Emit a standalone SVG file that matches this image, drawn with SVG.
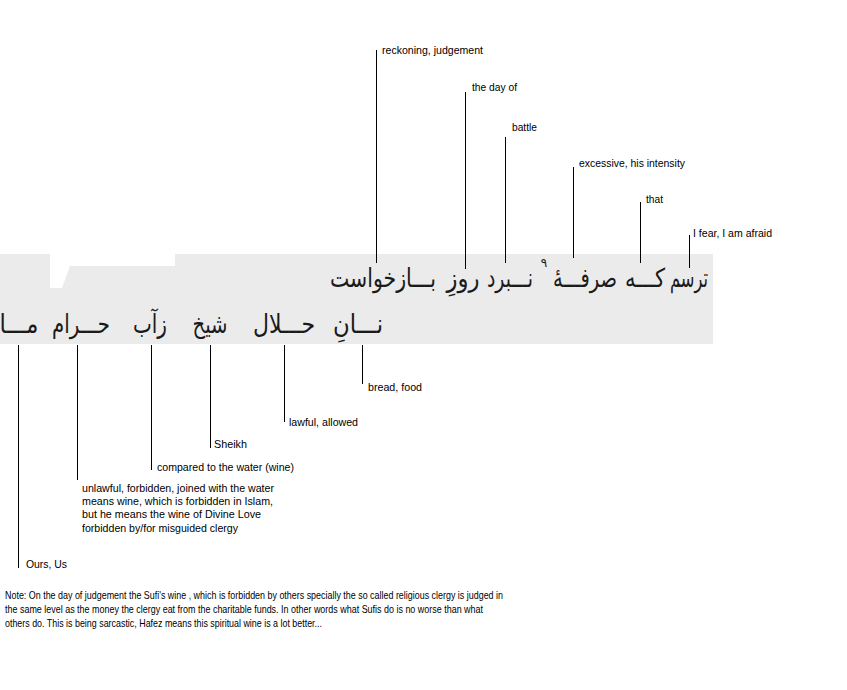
<svg xmlns="http://www.w3.org/2000/svg" width="847" height="690" viewBox="0 0 847 690">
<style>
.lbl{font-family:"Liberation Sans",Arial,sans-serif;font-size:11px;fill:#000}
.fa{font-family:"DejaVu Sans",sans-serif;font-size:26px;fill:#1a1a1a;text-anchor:middle}
.c{stroke:#000;stroke-width:1;fill:none}
</style>
<rect x="0" y="0" width="847" height="690" fill="#fff"/>
<g id="scan">
<rect x="0" y="254" width="713" height="90" fill="#ebebeb"/>
<path d="M50,254 H175 V266 H70 L62,288 H50 Z" fill="#fff"/>
</g>
<g id="connectors">
<line class="c" x1="376.5" y1="50" x2="376.5" y2="263"/>
<line class="c" x1="465.5" y1="92" x2="465.5" y2="269"/>
<line class="c" x1="505.5" y1="137" x2="505.5" y2="263"/>
<line class="c" x1="573.5" y1="167" x2="573.5" y2="258"/>
<line class="c" x1="640.5" y1="202" x2="640.5" y2="263"/>
<line class="c" x1="689.5" y1="235" x2="689.5" y2="268"/>
<line class="c" x1="18.5" y1="345" x2="18.5" y2="568"/>
<line class="c" x1="77.5" y1="345" x2="77.5" y2="480"/>
<line class="c" x1="151.5" y1="345" x2="151.5" y2="470"/>
<line class="c" x1="210.5" y1="345" x2="210.5" y2="448"/>
<line class="c" x1="284.5" y1="345" x2="284.5" y2="422"/>
<line class="c" x1="362.5" y1="345" x2="362.5" y2="384"/>
</g>
<g id="w-tarsam"><text class="fa" x="689" y="287" direction="rtl" textLength="38" lengthAdjust="spacingAndGlyphs">ترسم</text><text class="lbl" x="693" y="237" textLength="79" lengthAdjust="spacingAndGlyphs">I fear, I am afraid</text></g>
<g id="w-ke"><text class="fa" x="645" y="287" direction="rtl" textLength="40" lengthAdjust="spacingAndGlyphs">کـــه</text><text class="lbl" x="646" y="203" textLength="17" lengthAdjust="spacingAndGlyphs">that</text></g>
<g id="w-sarfe"><text class="fa" x="585" y="287" direction="rtl" textLength="64" lengthAdjust="spacingAndGlyphs">صرفـــهٔ</text><text x="544" y="267" style="font-family:'DejaVu Sans',sans-serif;font-size:12px;fill:#1a1a1a;text-anchor:middle">٩</text><text class="lbl" x="579" y="167" textLength="106" lengthAdjust="spacingAndGlyphs">excessive, his intensity</text></g>
<g id="w-nabard"><text class="fa" x="510" y="287" direction="rtl" textLength="46" lengthAdjust="spacingAndGlyphs">نـــبرد</text><text class="lbl" x="512" y="131" textLength="25" lengthAdjust="spacingAndGlyphs">battle</text></g>
<g id="w-ruz"><text class="fa" x="463" y="287" direction="rtl" textLength="33" lengthAdjust="spacingAndGlyphs">روزِ</text><text class="lbl" x="472" y="91" textLength="45" lengthAdjust="spacingAndGlyphs">the day of</text></g>
<g id="w-bazkhast"><text class="fa" x="383" y="287" direction="rtl" textLength="106" lengthAdjust="spacingAndGlyphs">بـــازخواست</text><text class="lbl" x="382" y="54" textLength="101" lengthAdjust="spacingAndGlyphs">reckoning, judgement</text></g>
<g id="w-nan"><text class="fa" x="358" y="333" direction="rtl" textLength="50" lengthAdjust="spacingAndGlyphs">نـــانِ</text><text class="lbl" x="368" y="391" textLength="54" lengthAdjust="spacingAndGlyphs">bread, food</text></g>
<g id="w-halal"><text class="fa" x="284" y="333" direction="rtl" textLength="62" lengthAdjust="spacingAndGlyphs">حـــلال</text><text class="lbl" x="289" y="426" textLength="69" lengthAdjust="spacingAndGlyphs">lawful, allowed</text></g>
<g id="w-sheikh"><text class="fa" x="210" y="333" direction="rtl" textLength="35" lengthAdjust="spacingAndGlyphs">شیخ</text><text class="lbl" x="214" y="448" textLength="33" lengthAdjust="spacingAndGlyphs">Sheikh</text></g>
<g id="w-zab"><text class="fa" x="150" y="333" direction="rtl" textLength="34" lengthAdjust="spacingAndGlyphs">زآب</text><text class="lbl" x="157" y="471" textLength="137" lengthAdjust="spacingAndGlyphs">compared to the water (wine)</text></g>
<g id="w-haram"><text class="fa" x="81" y="333" direction="rtl" textLength="58" lengthAdjust="spacingAndGlyphs">حـــرام</text>
<text class="lbl" x="82" y="492" textLength="192" lengthAdjust="spacingAndGlyphs">unlawful, forbidden, joined with the water</text>
<text class="lbl" x="82" y="505" textLength="191" lengthAdjust="spacingAndGlyphs">means wine, which is forbidden in Islam,</text>
<text class="lbl" x="82" y="518" textLength="179" lengthAdjust="spacingAndGlyphs">but he means the wine of Divine Love</text>
<text class="lbl" x="82" y="532" textLength="156" lengthAdjust="spacingAndGlyphs">forbidden by/for misguided clergy</text></g>
<g id="w-ma"><text class="fa" x="19" y="333" direction="rtl" textLength="39" lengthAdjust="spacingAndGlyphs">مـــا</text><text class="lbl" x="26" y="568" textLength="41" lengthAdjust="spacingAndGlyphs">Ours, Us</text></g>
<g id="note">
<text class="lbl" x="5" y="599" textLength="498" lengthAdjust="spacingAndGlyphs">Note: On the day of judgement the Sufi's wine , which is forbidden by others specially the so called religious clergy is judged in</text>
<text class="lbl" x="5" y="613" textLength="478" lengthAdjust="spacingAndGlyphs">the same level as the money the clergy eat from the charitable funds. In other words what Sufis do is no worse than what</text>
<text class="lbl" x="5" y="627" textLength="317" lengthAdjust="spacingAndGlyphs">others do. This is being sarcastic, Hafez means this spiritual wine is a lot better...</text>
</g>
</svg>
